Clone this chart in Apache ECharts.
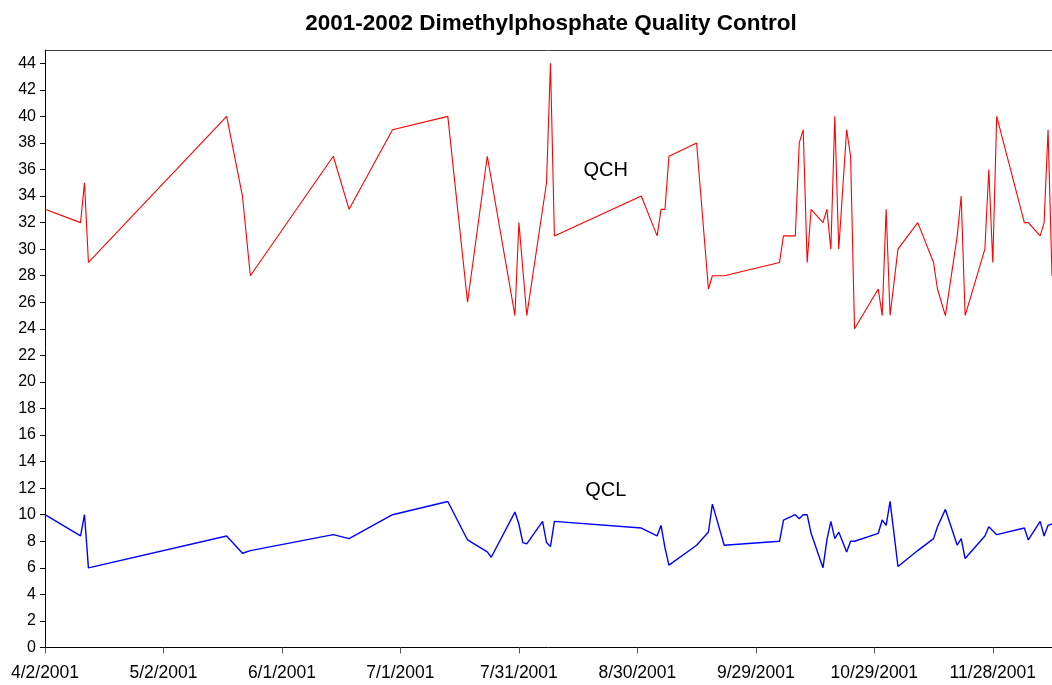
<!DOCTYPE html>
<html>
<head>
<meta charset="utf-8">
<script src="https://cdn.jsdelivr.net/npm/echarts@6/dist/echarts.min.js"></script>
<style>
html,body{margin:0;padding:0;background:#fff;}
#chart{width:1052px;height:685px;}
</style>
</head>
<body>
<div id="chart"></div>
<script>
const chartTitle = '2001-2002 Dimethylphosphate Quality Control';
const startDate = '2001-04-02';
const endDate = '2001-12-13';
const xTickLabels = ['4/2/2001','5/2/2001','6/1/2001','7/1/2001','7/31/2001','8/30/2001','9/29/2001','10/29/2001','11/28/2001'];

const qchDates = ['2001-04-02','2001-04-11','2001-04-12','2001-04-13','2001-05-18','2001-05-22','2001-05-24',
  '2001-06-14','2001-06-18','2001-06-29','2001-07-13','2001-07-18','2001-07-23','2001-07-30','2001-07-31',
  '2001-08-02','2001-08-07','2001-08-08','2001-08-09','2001-08-31','2001-09-04','2001-09-05','2001-09-06',
  '2001-09-07','2001-09-14','2001-09-17','2001-09-18','2001-09-21','2001-10-05','2001-10-06','2001-10-09',
  '2001-10-10','2001-10-11','2001-10-12','2001-10-13','2001-10-16','2001-10-17','2001-10-18','2001-10-19',
  '2001-10-20','2001-10-22','2001-10-23','2001-10-24','2001-10-30','2001-10-31','2001-11-01','2001-11-02',
  '2001-11-04','2001-11-09','2001-11-13','2001-11-14','2001-11-16','2001-11-19','2001-11-20','2001-11-21',
  '2001-11-26','2001-11-27','2001-11-28','2001-11-29','2001-12-06','2001-12-07','2001-12-10','2001-12-11',
  '2001-12-12','2001-12-13'];
const qchValues = [33,32,35,29,40,34,28,
  37,33,39,40,26,37,25,32,
  25,35,44,31,34,31,33,33,
  37,38,27,28,28,29,31,31,
  38,39,29,33,32,33,30,40,
  30,39,37,24,27,25,33,25,
  30,32,29,27,25,31,34,25,
  30,36,29,40,32,32,31,32,
  39,28];

const qclDates = ['2001-04-02','2001-04-11','2001-04-12','2001-04-13','2001-05-18','2001-05-22','2001-05-24',
  '2001-06-14','2001-06-18','2001-06-29','2001-07-13','2001-07-18','2001-07-23','2001-07-24','2001-07-30',
  '2001-07-31','2001-08-01','2001-08-02','2001-08-06','2001-08-07','2001-08-08','2001-08-09','2001-08-31',
  '2001-09-04','2001-09-05','2001-09-06','2001-09-07','2001-09-14','2001-09-17','2001-09-18','2001-09-21',
  '2001-10-05','2001-10-06','2001-10-09','2001-10-10','2001-10-11','2001-10-12','2001-10-13','2001-10-16',
  '2001-10-17','2001-10-18','2001-10-19','2001-10-20','2001-10-22','2001-10-23','2001-10-24','2001-10-30',
  '2001-10-31','2001-11-01','2001-11-02','2001-11-04','2001-11-09','2001-11-13','2001-11-14','2001-11-16',
  '2001-11-19','2001-11-20','2001-11-21','2001-11-26','2001-11-27','2001-11-28','2001-11-29','2001-12-06',
  '2001-12-07','2001-12-10','2001-12-11','2001-12-12','2001-12-13'];
const qclValues = [10.0,8.4,10.0,6.0,8.4,7.1,7.3,
  8.5,8.2,10.0,11.0,8.1,7.2,6.8,10.2,
  9.3,7.9,7.8,9.5,7.9,7.6,9.5,9.0,
  8.4,9.2,7.5,6.2,7.7,8.7,10.8,7.7,
  8.0,9.6,10.0,9.7,10.0,10.0,8.6,6.0,
  8.1,9.5,8.2,8.7,7.2,8.0,8.0,8.6,
  9.6,9.2,11.0,6.1,7.3,8.2,9.1,10.4,
  7.7,8.2,6.7,8.4,9.1,8.8,8.5,9.0,
  8.1,9.5,8.4,9.2,9.3];

const seriesLabels = ['QCH','QCL'];
// label anchor positions in data coordinates [date, value]
const labelAnchors = [['2001-08-22', 35.95], ['2001-08-22', 11.85]];

const DAY = 86400000;
const t0 = Date.parse(startDate);
const toDay = d => Math.round((Date.parse(d) - t0) / DAY);
const xMax = toDay(endDate);

const qchData = qchDates.map((d, i) => [toDay(d), qchValues[i]]);
const qclData = qclDates.map((d, i) => [toDay(d), qclValues[i]]);

const FONT = 'Arial, "Liberation Sans", Helvetica, sans-serif';

const chart = echarts.init(document.getElementById('chart'), null, {renderer: 'canvas'});
chart.setOption({
  animation: false,
  backgroundColor: '#ffffff',
  title: {
    text: chartTitle,
    left: 551,
    top: 12,
    padding: 0,
    textAlign: 'center',
    textStyle: {fontFamily: FONT, fontSize: 22.5, fontWeight: 'bold', color: '#000'}
  },
  grid: {left: 45, right: 0, top: 50, bottom: 37.5, containLabel: false},
  xAxis: [{
    type: 'value',
    min: 0,
    max: xMax,
    interval: 30,
    position: 'bottom',
    axisLine: {show: true, onZero: false, lineStyle: {color: '#000', width: 1}},
    axisTick: {show: true, inside: false, length: 6, lineStyle: {color: '#555'}},
    axisLabel: {
      show: true, margin: 17, fontFamily: FONT, fontSize: 17.5, color: '#000',
      showMaxLabel: false,
      formatter: v => (v % 30 === 0 && xTickLabels[v / 30] !== undefined) ? xTickLabels[v / 30] : ''
    },
    splitLine: {show: false}
  }, {
    type: 'value',
    min: 0,
    max: xMax,
    position: 'top',
    axisLine: {show: true, onZero: false, lineStyle: {color: '#404040', width: 1}},
    axisTick: {show: false},
    axisLabel: {show: false},
    splitLine: {show: false}
  }],
  yAxis: {
    type: 'value',
    min: 0,
    max: 45,
    interval: 2,
    axisLine: {show: true, onZero: false, lineStyle: {color: '#000', width: 1}},
    axisTick: {show: true, inside: false, length: 5, lineStyle: {color: '#000'}},
    axisLabel: {margin: 9, fontFamily: FONT, fontSize: 16, color: '#000', showMaxLabel: false,
      formatter: v => (v % 2 === 0 ? String(v) : '')},
    splitLine: {show: false}
  },
  series: [{
    name: seriesLabels[0],
    type: 'line',
    xAxisIndex: 0,
    data: qchData,
    showSymbol: false,
    symbol: 'none',
    clip: true,
    lineStyle: {color: '#ff0000', width: 1.1},
    itemStyle: {color: '#ff0000'},
    markPoint: {
      symbol: 'rect', symbolSize: 1,
      itemStyle: {color: 'rgba(0,0,0,0)'},
      label: {show: true, position: 'inside', formatter: seriesLabels[0], fontFamily: FONT, fontSize: 20, color: '#000'},
      data: [{coord: [toDay(labelAnchors[0][0]), labelAnchors[0][1]]}]
    }
  }, {
    name: seriesLabels[1],
    type: 'line',
    xAxisIndex: 0,
    data: qclData,
    showSymbol: false,
    symbol: 'none',
    clip: true,
    lineStyle: {color: '#0000ff', width: 1.4},
    itemStyle: {color: '#0000ff'},
    markPoint: {
      symbol: 'rect', symbolSize: 1,
      itemStyle: {color: 'rgba(0,0,0,0)'},
      label: {show: true, position: 'inside', formatter: seriesLabels[1], fontFamily: FONT, fontSize: 20, color: '#000'},
      data: [{coord: [toDay(labelAnchors[1][0]), labelAnchors[1][1]]}]
    }
  }]
});
</script>
</body>
</html>
